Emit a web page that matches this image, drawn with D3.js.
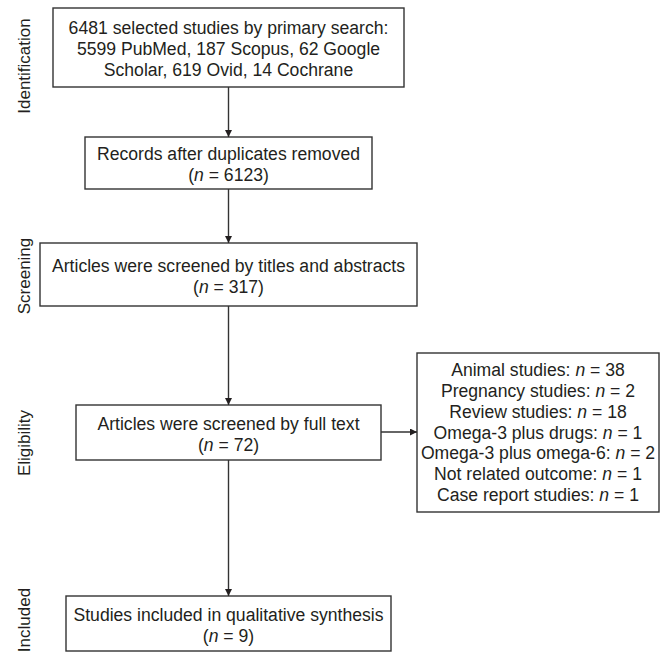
<!DOCTYPE html>
<html>
<head>
<meta charset="utf-8">
<script src="https://cdn.jsdelivr.net/npm/d3@7"></script>
<style>
  body { margin: 0; background: #fff; }
  text { font-family: "Liberation Sans", Arial, sans-serif; fill: #231f20; }
</style>
</head>
<body>
<div id="container"></div>
<script>
/* DATA */
const stages = ["Identification", "Screening", "Eligibility", "Included"];
const stageCenters = [66, 276, 443, 620];

// main flow boxes, each line is [plain text, n value or null]
const boxLines = [
  [["6481 selected studies by primary search:", null],
   ["5599 PubMed, 187 Scopus, 62 Google", null],
   ["Scholar, 619 Ovid, 14 Cochrane", null]],
  [["Records after duplicates removed", null], ["", 6123]],
  [["Articles were screened by titles and abstracts", null], ["", 317]],
  [["Articles were screened by full text", null], ["", 72]],
  [["Studies included in qualitative synthesis", null], ["", 9]]
];
const boxExtents = [  // [left, right, top, bottom]
  [53, 404, 8, 87],
  [85, 372, 137, 189],
  [40, 417, 243, 306],
  [76, 381, 405, 460],
  [66, 391, 596, 651]
];

const excludedReasons = ["Animal studies", "Pregnancy studies", "Review studies",
  "Omega-3 plus drugs", "Omega-3 plus omega-6", "Not related outcome", "Case report studies"];
const excludedCounts = [38, 2, 18, 1, 2, 1, 1];
const excludedBox = [417, 659, 353, 512];

/* CONSTANTS */
const width = 667, height = 652;
const fontSize = 17.6, lineH = 20.8;
const cx = 228.5;
const stroke = "#333";

const svg = d3.select("#container").append("svg")
  .attr("width", width).attr("height", height);

svg.append("defs").append("marker")
  .attr("id", "head")
  .attr("viewBox", "0 0 10 10")
  .attr("refX", 10).attr("refY", 5)
  .attr("markerWidth", 7).attr("markerHeight", 7)
  .attr("markerUnits", "userSpaceOnUse")
  .attr("orient", "auto")
  .append("path").attr("d", "M0,0 L10,5 L0,10 Z").attr("fill", "#231f20");

// stage labels
svg.selectAll("text.stage")
  .data(stages)
  .join("text")
  .attr("class", "stage")
  .attr("transform", (d, i) => `translate(30,${stageCenters[i]}) rotate(-90)`)
  .attr("text-anchor", "middle")
  .style("font-size", "17px")
  .text(d => d);

// helper to write a line with italic n
function writeLine(sel, label, n) {
  if (n === null) { sel.text(label); return; }
  if (label === "") {
    sel.append("tspan").text("(");
    sel.append("tspan").style("font-style", "italic").text("n");
    sel.append("tspan").text(` = ${n})`);
  } else {
    sel.append("tspan").text(label + ": ");
    sel.append("tspan").style("font-style", "italic").text("n");
    sel.append("tspan").text(` = ${n}`);
  }
}

// main boxes
const boxes = svg.selectAll("g.box")
  .data(boxLines)
  .join("g")
  .attr("class", "box");

boxes.append("rect")
  .attr("x", (d, i) => boxExtents[i][0])
  .attr("y", (d, i) => boxExtents[i][2])
  .attr("width", (d, i) => boxExtents[i][1] - boxExtents[i][0])
  .attr("height", (d, i) => boxExtents[i][3] - boxExtents[i][2])
  .attr("fill", "none").attr("stroke", stroke).attr("stroke-width", 1.4);

boxes.each(function (lines, i) {
  const e = boxExtents[i];
  const mid = (e[2] + e[3]) / 2 + 1.5;
  const y0 = mid - (lines.length - 1) * lineH / 2;
  d3.select(this).selectAll("text")
    .data(lines)
    .join("text")
    .attr("x", cx)
    .attr("y", (d, j) => y0 + j * lineH)
    .attr("dy", "0.35em")
    .attr("text-anchor", "middle")
    .style("font-size", fontSize + "px")
    .each(function (d) { writeLine(d3.select(this), d[0], d[1]); });
});

// vertical arrows
const links = d3.pairs(boxExtents);
svg.selectAll("line.down")
  .data(links)
  .join("line")
  .attr("class", "down")
  .attr("x1", cx).attr("x2", cx)
  .attr("y1", d => d[0][3])
  .attr("y2", d => d[1][2])
  .attr("stroke", stroke).attr("stroke-width", 1.4)
  .attr("marker-end", "url(#head)");

// excluded box
svg.append("rect")
  .attr("x", excludedBox[0]).attr("y", excludedBox[2])
  .attr("width", excludedBox[1] - excludedBox[0])
  .attr("height", excludedBox[3] - excludedBox[2])
  .attr("fill", "none").attr("stroke", stroke).attr("stroke-width", 1.4);

const exMid = (excludedBox[2] + excludedBox[3]) / 2;
const exY0 = exMid - (excludedReasons.length - 1) * lineH / 2;
svg.selectAll("text.excl")
  .data(excludedReasons)
  .join("text")
  .attr("class", "excl")
  .attr("x", (excludedBox[0] + excludedBox[1]) / 2)
  .attr("y", (d, i) => exY0 + i * lineH)
  .attr("dy", "0.35em")
  .attr("text-anchor", "middle")
  .style("font-size", fontSize + "px")
  .each(function (d, i) { writeLine(d3.select(this), d, excludedCounts[i]); });

// side arrow
svg.append("line")
  .attr("x1", boxExtents[3][1]).attr("x2", excludedBox[0])
  .attr("y1", 432).attr("y2", 432)
  .attr("stroke", stroke).attr("stroke-width", 1.4)
  .attr("marker-end", "url(#head)");
</script>
</body>
</html>
